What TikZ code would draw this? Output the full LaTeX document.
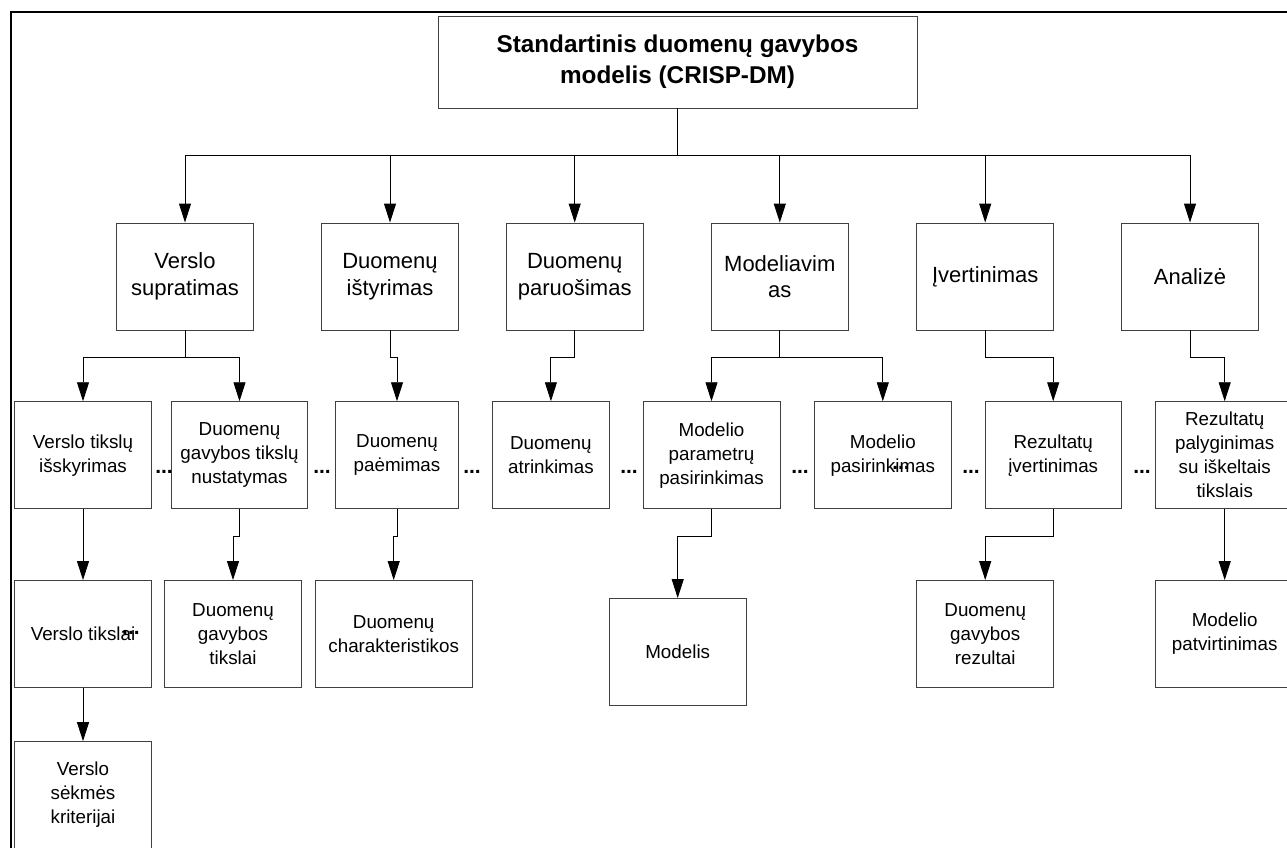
\documentclass[tikz,border=0pt]{standalone}
\usepackage{fontspec}
\setmainfont{Liberation Sans}
\usetikzlibrary{arrows.meta}

\begin{document}
\begin{tikzpicture}[>={Triangle[length=19pt, width=12pt]}, x=1pt, y=-1pt,
    box/.style={draw=black!75, line width=0.9pt, inner sep=0pt, align=center, minimum height=107pt},
    phase/.style={box, minimum width=137pt, font=\fontsize{22}{26.5}\selectfont},
    task/.style={box, font=\fontsize{18.8}{24}\selectfont},
    link/.style={->, draw=black, line width=0.9pt},
    ellip/.style={inner sep=0pt, font=\bfseries\fontsize{21}{24}\selectfont}]
            \useasboundingbox (0,0) rectangle (1287,847);
            \clip (0,0) rectangle (1287,847);

            % Rėmelis
            \draw[line width=2pt] (10.7,870) -- (10.7,12) -- (1310,12);

            % Pagrindinis blokas
            \node[box, minimum width=479pt, minimum height=92pt,
                font=\bfseries\fontsize{24.3}{31}\selectfont] (crisp) at (677.5,62)
                {Standartinis duomenų gavybos\\modelis (CRISP-DM)};

            % Etapai
            \node[phase] (vs) at (185,276.5) {Verslo\\supratimas};
            \node[phase] (di) at (390,276.5) {Duomenų\\ištyrimas};
            \node[phase] (dp) at (574.7,276.5) {Duomenų\\paruošimas};
            \node[phase] (mod) at (779.8,276.5) {Modeliavim\\as};
            \node[phase] (ivert) at (985.2,276.5) {Įvertinimas};
            \node[phase] (anal) at (1190,276.5) {Analizė};

            % Uždaviniai
            \node[task, minimum width=137.4pt] (vti) at (83,455.2) {Verslo tikslų\\išskyrimas};
            \node[task, minimum width=136.4pt] (dgtn) at (239.5,455.2) {Duomenų\\gavybos tikslų\\nustatymas};
            \node[task, minimum width=122.6pt] (dpae) at (397,455.2) {Duomenų\\paėmimas};
            \node[task, minimum width=116.3pt] (datr) at (550.9,455.2) {Duomenų\\atrinkimas};
            \node[task, minimum width=137pt] (mpp) at (711.5,455.2) {Modelio\\parametrų\\pasirinkimas};
            \node[task, minimum width=136.3pt] (mpas) at (882.8,455.2) {Modelio\\pasirinkimas};
            \node[task, minimum width=136.3pt] (ri) at (1053.2,455.2) {Rezultatų\\įvertinimas};
            \node[task, minimum width=138pt] (rp) at (1224.7,455.2) {Rezultatų\\palyginimas\\su iškeltais\\tikslais};

            % Rezultatai
            \node[task, minimum width=137.4pt] (vt) at (83,634) {Verslo tikslai};
            \node[task, minimum width=136.6pt] (dgt) at (233,634) {Duomenų\\gavybos\\tikslai};
            \node[task, minimum width=157.3pt] (dch) at (393.7,634) {Duomenų\\charakteristikos};
            \node[task, minimum width=137.3pt] (modelis) at (677.7,652) {Modelis};
            \node[task, minimum width=137pt] (dgr) at (985.2,634) {Duomenų\\gavybos\\rezultai};
            \node[task, minimum width=138pt] (mpt) at (1224.7,634) {Modelio\\patvirtinimas};
            \node[task, minimum width=137.4pt] (vsk) at (83,795.1) {Verslo\\sėkmės\\kriterijai};

            % Daugtaškiai
            \foreach \x [count=\i] in {164,322,472,629,800,971,1142}
                \node[ellip] (etc\i) at (\x,472) {...};
            \node[ellip] (etc8) at (131,633) {...};
            \node[ellip] (etc9) at (901,468) {...};

            % Jungtys
            \foreach \n in {vs,di,dp,mod,ivert,anal}
                \draw[link] (crisp.south) -- ++(0,46.7) -| (\n.north);
            \foreach \a/\b in {vs/vti, vs/dgtn, di/dpae, dp/datr, mod/mpp, mod/mpas, ivert/ri, anal/rp}
                \draw[link] (\a.south) -- ++(0,26.7) -| (\b.north);
            \foreach \a/\b in {dgtn/dgt, dpae/dch, mpp/modelis, ri/dgr}
                \draw[link] (\a.south) -- ++(0,27) -| (\b.north);
            \foreach \a/\b in {vti/vt, rp/mpt, vt/vsk}
                \draw[link] (\a.south) -- (\b.north);
        \end{tikzpicture}
\end{document}
